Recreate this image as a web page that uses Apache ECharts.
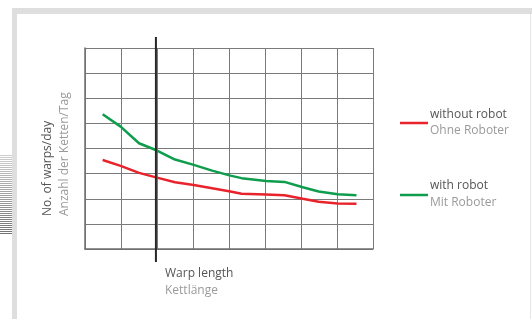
<!DOCTYPE html>
<html>
<head>
<meta charset="utf-8">
<script src="https://cdn.jsdelivr.net/npm/echarts@6/dist/echarts.min.js"></script>
<style>
html,body{margin:0;padding:0;background:#fff;}
#chart{width:532px;height:319px;}
</style>
</head>
<body>
<div id="chart"></div>
<script>
// warp length (grid units) and warps per day (grid units)
var warpLength = [0.49, 0.99, 1.5, 2.0, 2.5, 3.02, 3.53, 4.04, 4.35, 5.03, 5.54, 6.05, 6.49, 7.02, 7.54];
var withoutRobot = [3.54, 3.31, 3.03, 2.84, 2.66, 2.55, 2.42, 2.29, 2.2, 2.17, 2.14, 2.0, 1.88, 1.81, 1.8];
var withRobot = [5.36, 4.87, 4.21, 3.92, 3.56, 3.35, 3.12, 2.92, 2.82, 2.71, 2.67, 2.46, 2.29, 2.18, 2.14];
var xTicks = [0, 1, 2, 3, 4, 5, 6, 7, 8];
var yTicks = [0, 1, 2, 3, 4, 5, 6, 7, 8];
var markerAt = [1.97];

var font = '"Open Sans", sans-serif';
var myChart = echarts.init(document.getElementById('chart'));

function pairs(xs, ys){
    var out = [];
    for (var i = 0; i < xs.length; i++) out.push([xs[i], ys[i]]);
    return out;
}

// hatch at left edge
var hatch = [];
for (var y = 155; y <= 233; y += 2) {
    var t = (y - 155) / 78;
    var c = Math.round(205 - t * 90);
    hatch.push({
        type: 'line', silent: true,
        shape: {x1: 0, y1: y + 0.5, x2: 12, y2: y + 0.5},
        style: {stroke: 'rgb(' + c + ',' + c + ',' + c + ')', lineWidth: 1}
    });
}

var option = {
    animation: false,
    backgroundColor: '#fff',
    grid: {left: 85, top: 48, width: 288, height: 201},
    xAxis: {
        type: 'value', min: xTicks[0], max: xTicks[xTicks.length - 1], interval: 1,
        axisLine: {show: true, lineStyle: {color: '#6f6f6f', width: 1.5}},
        axisTick: {show: false}, axisLabel: {show: false},
        splitLine: {show: true, lineStyle: {color: '#7a7a7a', width: 1}}
    },
    yAxis: {
        type: 'value', min: yTicks[0], max: yTicks[yTicks.length - 1], interval: 1,
        axisLine: {show: true, lineStyle: {color: '#6f6f6f', width: 1.5}},
        axisTick: {show: false}, axisLabel: {show: false},
        splitLine: {show: true, lineStyle: {color: '#7a7a7a', width: 1}}
    },
    series: [
        {
            name: 'without robot', type: 'line', data: pairs(warpLength, withoutRobot),
            showSymbol: false, lineStyle: {color: '#e8232c', width: 2.5}
        },
        {
            name: 'with robot', type: 'line', data: pairs(warpLength, withRobot),
            showSymbol: false, lineStyle: {color: '#0e9d4c', width: 2.5}
        }
    ],
    graphic: [
        // page frame
        {type: 'rect', silent: true, shape: {x: 12, y: 8, width: 5, height: 311}, style: {fill: '#dedede'}},
        {type: 'rect', silent: true, shape: {x: 12, y: 8, width: 520, height: 6}, style: {fill: '#dedede'}},
        {type: 'rect', silent: true, shape: {x: 530, y: 14, width: 1, height: 305}, style: {fill: '#e6e6e6'}},
        {type: 'group', children: hatch},
        // axis titles
        {type: 'text', rotation: Math.PI / 2, x: 48, y: 216, silent: true,
            style: {text: 'No. of warps/day', font: '12px ' + font, fill: '#555', textAlign: 'left', textVerticalAlign: 'middle'}},
        {type: 'text', rotation: Math.PI / 2, x: 65, y: 216, silent: true,
            style: {text: 'Anzahl der Ketten/Tag', font: '12px ' + font, fill: '#9a9a9a', textAlign: 'left', textVerticalAlign: 'middle'}},
        {type: 'text', x: 165, y: 274, silent: true,
            style: {text: 'Warp length', font: '12px ' + font, fill: '#555', textVerticalAlign: 'middle'}},
        {type: 'text', x: 165, y: 291, silent: true,
            style: {text: 'Kettlänge', font: '12px ' + font, fill: '#9a9a9a', textVerticalAlign: 'middle'}},
        // legend
        {type: 'line', silent: true, shape: {x1: 400, y1: 123, x2: 428, y2: 123}, style: {stroke: '#e8232c', lineWidth: 2.5}},
        {type: 'text', x: 430, y: 115, silent: true,
            style: {text: 'without robot', font: '12px ' + font, fill: '#555', textVerticalAlign: 'middle'}},
        {type: 'text', x: 430, y: 131, silent: true,
            style: {text: 'Ohne Roboter', font: '12px ' + font, fill: '#9a9a9a', textVerticalAlign: 'middle'}},
        {type: 'line', silent: true, shape: {x1: 400, y1: 195, x2: 428, y2: 195}, style: {stroke: '#0e9d4c', lineWidth: 2.5}},
        {type: 'text', x: 430, y: 186, silent: true,
            style: {text: 'with robot', font: '12px ' + font, fill: '#555', textVerticalAlign: 'middle'}},
        {type: 'text', x: 430, y: 203, silent: true,
            style: {text: 'Mit Roboter', font: '12px ' + font, fill: '#9a9a9a', textVerticalAlign: 'middle'}}
    ]
};
myChart.setOption(option);

// black marker line, placed through the axis scale, running past the grid
var markTop = myChart.convertToPixel({gridIndex: 0}, [markerAt[0], yTicks[yTicks.length - 1]]);
var markBot = myChart.convertToPixel({gridIndex: 0}, [markerAt[0], yTicks[0]]);
myChart.setOption({
    graphic: option.graphic.concat([{
        type: 'line', silent: true, z: 10,
        shape: {x1: markTop[0], y1: markTop[1] - 11, x2: markBot[0], y2: markBot[1] + 13},
        style: {stroke: '#262626', lineWidth: 2}
    }])
});
</script>
</body>
</html>
